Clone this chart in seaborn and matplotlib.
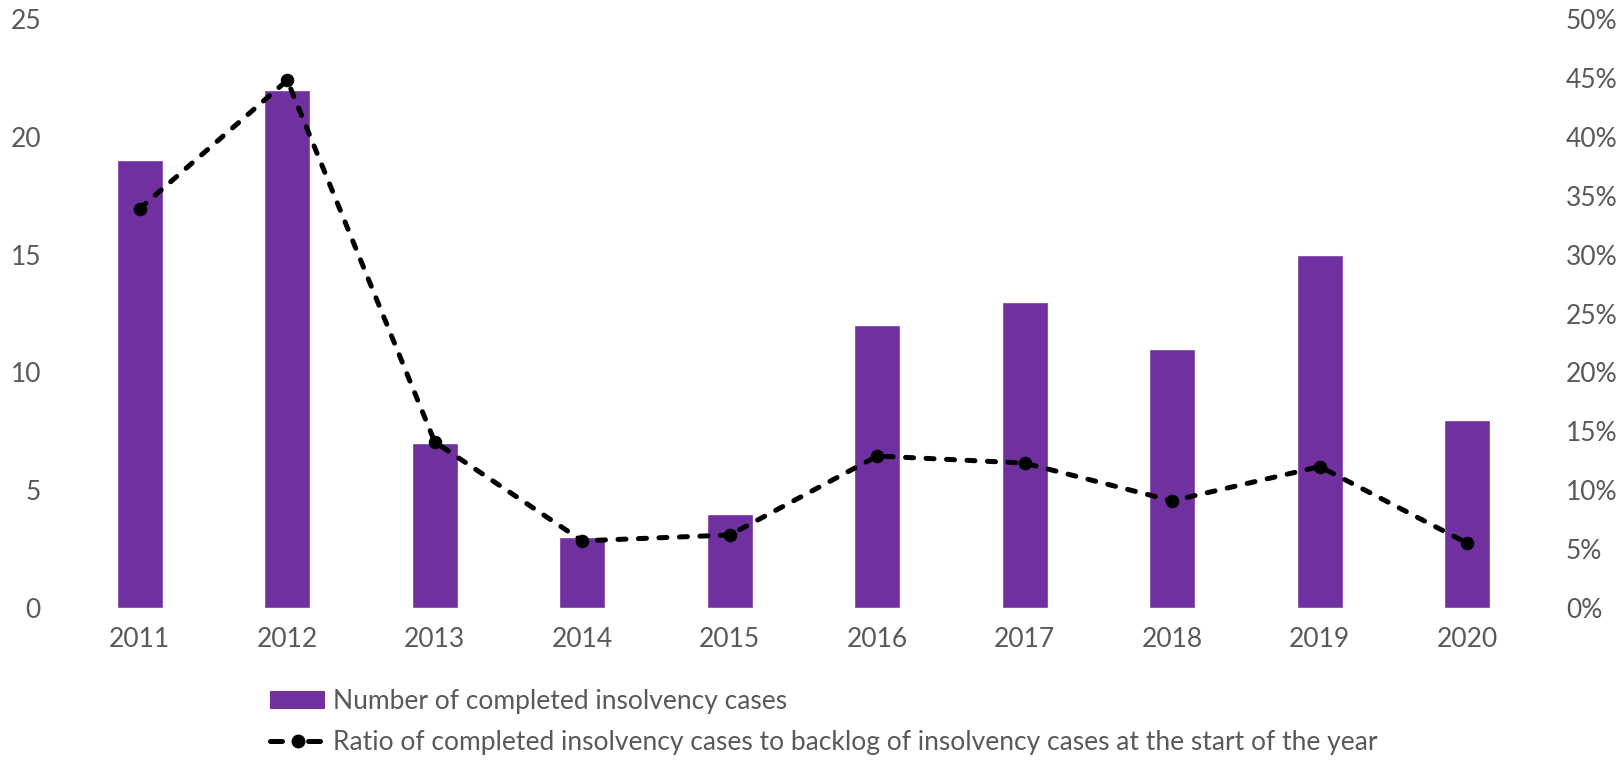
import matplotlib
matplotlib.use("Agg")
import matplotlib.pyplot as plt
import seaborn as sns
import pandas as pd
from matplotlib.ticker import FuncFormatter, MultipleLocator
from matplotlib.lines import Line2D
from matplotlib.patches import Patch

years = ["2011", "2012", "2013", "2014", "2015", "2016", "2017", "2018", "2019", "2020"]
completed_cases = [19, 22, 7, 3, 4, 12, 13, 11, 15, 8]
ratio_pct = [33.9, 44.8, 14.1, 5.7, 6.2, 12.9, 12.3, 9.1, 12.0, 5.5]

bar_label = "Number of completed insolvency cases"
line_label = "Ratio of completed insolvency cases to backlog of insolvency cases at the start of the year"

df = pd.DataFrame({"year": years, "cases": completed_cases, "ratio": ratio_pct})

sns.set_theme(style="white")
plt.rcParams["font.family"] = ["Lato", "DejaVu Sans"]
text_color = "#595959"
purple = "#7030A0"

fig = plt.figure(figsize=(16.18, 7.6), dpi=100)
ax = fig.add_axes([66 / 1618, 1 - 608 / 760, (1541 - 66) / 1618, (608 - 19) / 760])

sns.barplot(data=df, x="year", y="cases", color=purple, width=0.31,
            saturation=1, ax=ax, zorder=2)
ax.set_ylim(0, 25)
ax.set_xlim(-0.5, len(years) - 0.5)
ax.yaxis.set_major_locator(MultipleLocator(5))
ax.set_xlabel("")
ax.set_ylabel("")

ax2 = ax.twinx()
sns.lineplot(data=df, x="year", y="ratio", color="black", linewidth=3.6,
             linestyle=(0, (1.6, 2.5)), dash_capstyle="round",
             marker="o", markersize=9, markeredgecolor="black",
             markerfacecolor="black", ax=ax2, zorder=3)
ax2.set_ylim(0, 50)
ax2.yaxis.set_major_locator(MultipleLocator(5))
ax2.yaxis.set_major_formatter(FuncFormatter(lambda v, p: f"{v:.0f}%"))
ax2.set_xlabel("")
ax2.set_ylabel("")

for a in (ax, ax2):
    for s in a.spines.values():
        s.set_visible(False)
    a.grid(False)
    a.tick_params(length=0, labelsize=19, colors=text_color, pad=18)
ax.tick_params(axis="x", pad=14)

handles = [
    Patch(facecolor=purple, edgecolor="none"),
    Line2D([0], [0], color="black", linewidth=3.6, linestyle=(0, (2.4, 5.2)),
           dash_capstyle="round", marker="o", markersize=9),
]
leg = fig.legend(handles, [bar_label, line_label], loc="upper left",
                 bbox_to_anchor=(270 / 1618, 1 - 689 / 760), frameon=False,
                 fontsize=19, handlelength=2.1, handletextpad=0.3,
                 labelspacing=0.6, borderpad=0, borderaxespad=0)
for t in leg.get_texts():
    t.set_color(text_color)

fig.savefig("out.png", dpi=100)
